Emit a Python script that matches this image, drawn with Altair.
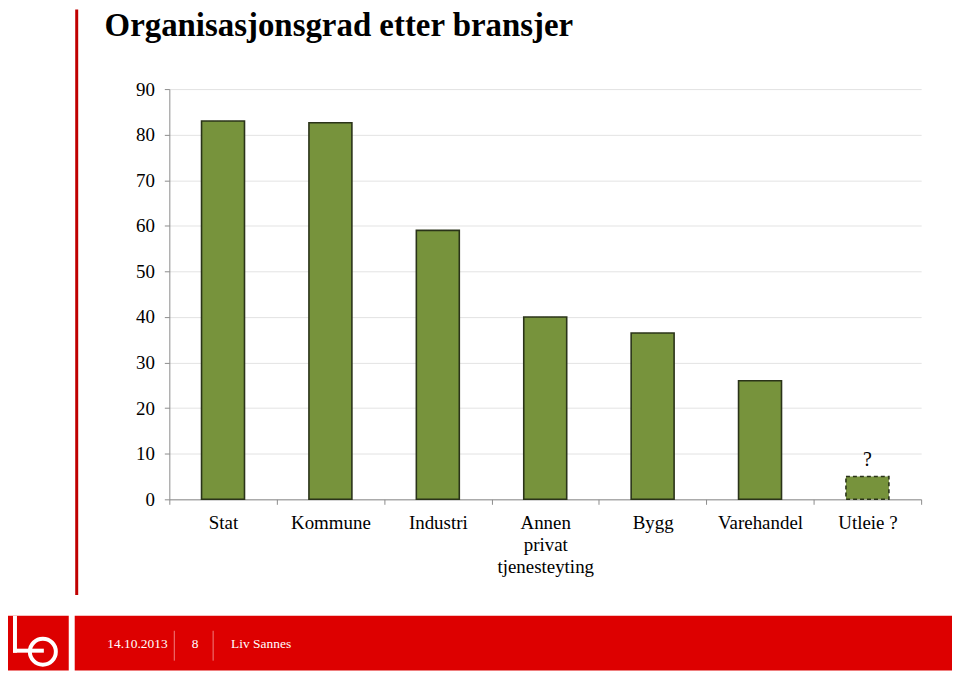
import altair as alt
import pandas as pd

categories = ["Stat", "Kommune", "Industri", "Annen|privat|tjenesteyting", "Bygg", "Varehandel", "Utleie ?"]
values = [83.0, 82.6, 59.0, 40.0, 36.5, 26.0, 5.0]
notes = ["", "", "", "", "", "", "?"]

title_text = "Organisasjonsgrad etter bransjer"
footer_date = "14.10.2013"
footer_page = "8"
footer_author = "Liv Sannes"

FONT = "Liberation Serif"
W, H = 755, 412

df = pd.DataFrame({"cat": categories, "val": values, "note": notes})
one = pd.DataFrame({"k": [0]})

xenc = alt.X("cat:N", sort=categories, title=None,
             scale=alt.Scale(paddingInner=0, paddingOuter=0),
             axis=alt.Axis(labelExpr="split(datum.label, '|')", labelAngle=0,
                           labelFont=FONT, labelFontSize=19, labelColor="black",
                           labelLineHeight=22, labelPadding=9,
                           tickBand="extent", tickSize=5, tickColor="#8c8c8c",
                           domainColor="#8c8c8c", grid=False))
yenc = alt.Y("val:Q", title=None,
             scale=alt.Scale(domain=[0, 90]),
             axis=alt.Axis(values=list(range(0, 91, 10)), labelFont=FONT, labelFontSize=19,
                           labelColor="black", labelPadding=10, tickSize=5,
                           tickColor="#8c8c8c", domainColor="#8c8c8c",
                           gridColor="#e3e3e3", gridWidth=1))

bars = alt.Chart(df).mark_bar(width={"band": 0.4}, color="#77933C", stroke="#2a3319",
                              strokeWidth=1.6).encode(
    x=xenc, y=yenc,
    strokeDash=alt.condition(alt.datum.cat == "Utleie ?", alt.value([4, 3]), alt.value([1, 0])),
)

qmark = alt.Chart(df).mark_text(font=FONT, fontSize=20, baseline="bottom", dy=-7,
                                color="black").encode(
    x=alt.X("cat:N", sort=categories), y=alt.Y("val:Q"), text="note:N")

red_line = alt.Chart(one).mark_rule(color="#C00000", strokeWidth=3).encode(
    x=alt.value(-93), y=alt.value(-80), y2=alt.value(508))

footer = alt.Chart(one).mark_rect(color="#DD0000").encode(
    x=alt.value(-95), x2=alt.value(786), y=alt.value(529), y2=alt.value(584))
logo_box = alt.Chart(one).mark_rect(color="#DD0000").encode(
    x=alt.value(-163), x2=alt.value(-101), y=alt.value(529), y2=alt.value(584))
logo_l1 = alt.Chart(one).mark_rule(color="white", strokeWidth=4).encode(
    x=alt.value(-155), y=alt.value(529), y2=alt.value(566))
logo_l2 = alt.Chart(one).mark_rule(color="white", strokeWidth=4).encode(
    x=alt.value(-157), x2=alt.value(-126), y=alt.value(564))
logo_o = alt.Chart(one).mark_point(shape="circle", color="white", strokeWidth=4,
                                   size=680, filled=False, opacity=1).encode(
    x=alt.value(-127), y=alt.value(565))

sep1 = alt.Chart(one).mark_rule(color="#F08080", strokeWidth=1).encode(
    x=alt.value(5), y=alt.value(544), y2=alt.value(574))
sep2 = alt.Chart(one).mark_rule(color="#F08080", strokeWidth=1).encode(
    x=alt.value(44), y=alt.value(544), y2=alt.value(574))

ft_date = alt.Chart(one).mark_text(text=footer_date, font=FONT, fontSize=13.5, color="white",
                                   align="center", baseline="middle").encode(
    x=alt.value(-32), y=alt.value(557))
ft_page = alt.Chart(one).mark_text(text=footer_page, font=FONT, fontSize=13.5, color="white",
                                   align="center", baseline="middle").encode(
    x=alt.value(26), y=alt.value(557))
ft_auth = alt.Chart(one).mark_text(text=footer_author, font=FONT, fontSize=13.5, color="white",
                                   align="left", baseline="middle").encode(
    x=alt.value(62), y=alt.value(557))

title = alt.Chart(one).mark_text(text=title_text, font=FONT, fontSize=33, fontWeight="bold",
                                 color="black", align="left", baseline="alphabetic").encode(
    x=alt.value(-65), y=alt.value(-53))

chart = alt.layer(
    footer, logo_box, logo_l1, logo_l2, logo_o, sep1, sep2, ft_date, ft_page, ft_auth,
    red_line, title, bars, qmark
).properties(
    width=W, height=H,
    autosize=alt.AutoSizeParams(type="none"),
    padding={"left": 162, "top": 80, "right": 31, "bottom": 173},
    background="white",
).configure_view(strokeWidth=0)

chart.save("out.html", embed_options={"renderer": "svg", "actions": False})
